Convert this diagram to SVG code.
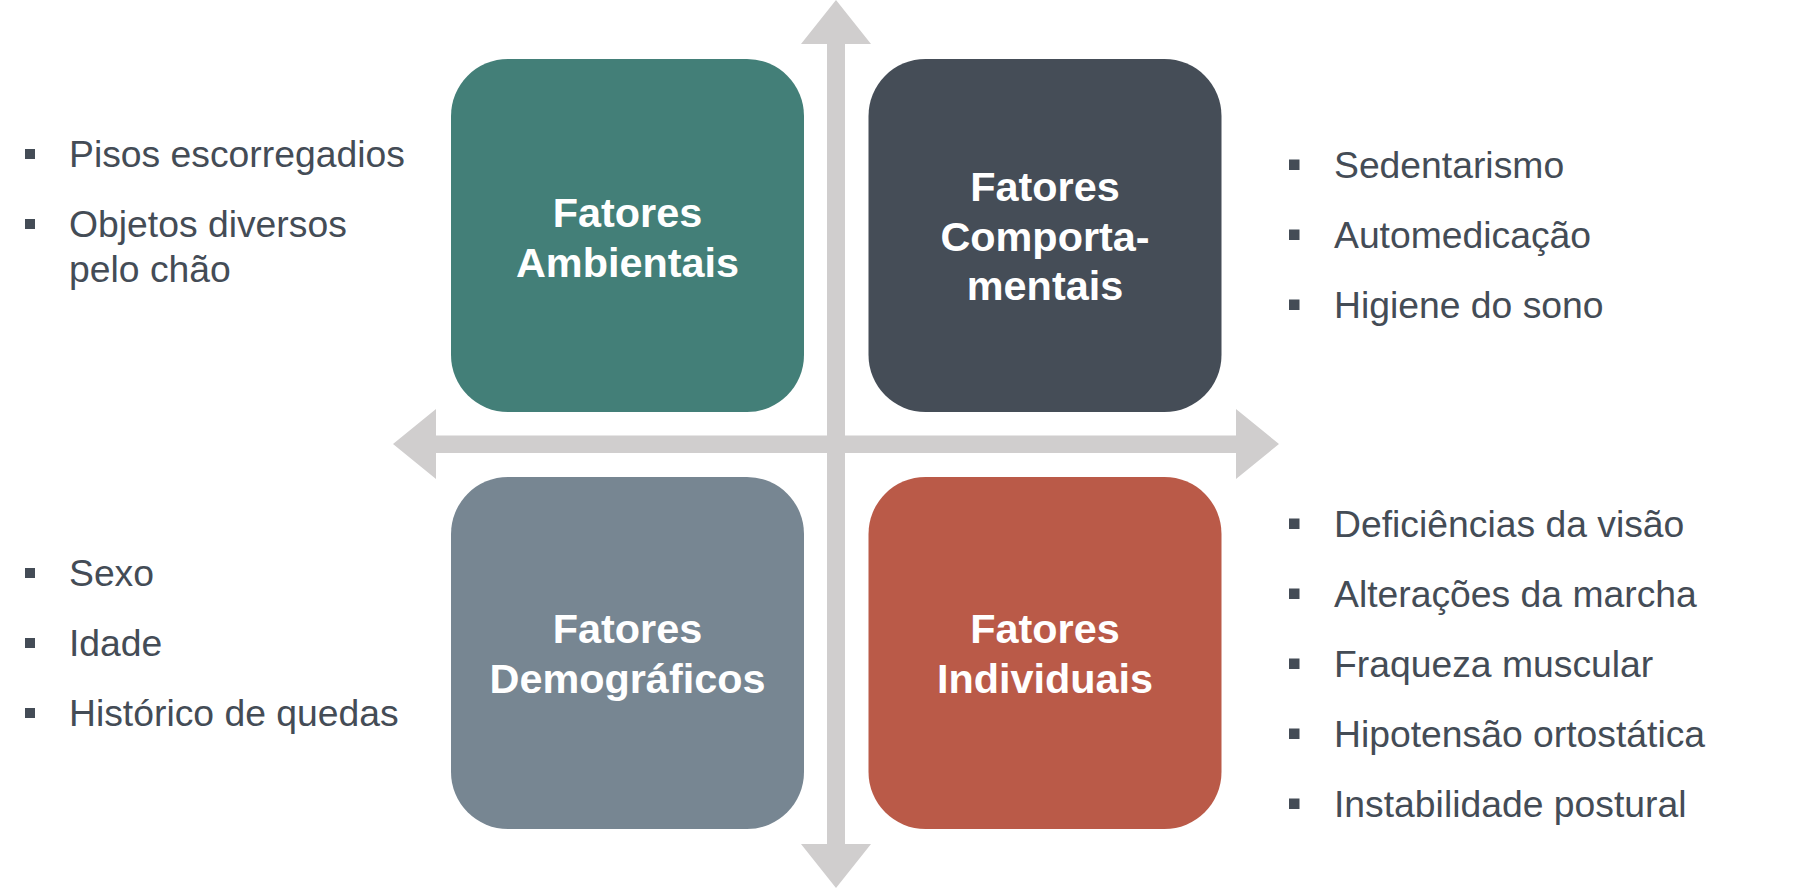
<svg xmlns="http://www.w3.org/2000/svg" width="1799" height="889" viewBox="0 0 1799 889">
  <style>
    .box-title { font-family: "Liberation Sans", Arial, sans-serif; font-weight: bold; font-size: 41.4px; fill: #FFFFFF; text-anchor: middle; }
    .item { font-family: "Liberation Sans", Arial, sans-serif; font-size: 37.3px; fill: #444C56; }
    .bullet { fill: #444C56; }
    .axis { fill: #D0CECE; }
  </style>
  <rect width="1799" height="889" fill="#FFFFFF"/>
  <g id="connectors">
    <polygon class="axis" points="836,0 871,44 845,44 845,844 871,844 836,888 801,844 827,844 827,44 801,44"/>
    <polygon class="axis" points="393,444 436,409 436,435.5 1236,435.5 1236,409 1279,444 1236,479 1236,453 436,453 436,479"/>
  </g>
  <g id="node-ambientais">
    <rect x="451" y="59" width="353" height="353" rx="57" ry="57" fill="#437F78"/>
    <text class="box-title" x="627.5" y="227">Fatores</text>
    <text class="box-title" x="627.5" y="276.5">Ambientais</text>
  </g>
  <g id="node-comportamentais">
    <rect x="868.5" y="59" width="353" height="353" rx="57" ry="57" fill="#454D57"/>
    <text class="box-title" x="1045" y="201">Fatores</text>
    <text class="box-title" x="1045" y="250.5">Comporta-</text>
    <text class="box-title" x="1045" y="300">mentais</text>
  </g>
  <g id="node-demograficos">
    <rect x="451" y="477" width="353" height="352" rx="57" ry="57" fill="#778692"/>
    <text class="box-title" x="627.5" y="643">Fatores</text>
    <text class="box-title" x="627.5" y="692.5">Demográficos</text>
  </g>
  <g id="node-individuais">
    <rect x="868.5" y="477" width="353" height="352" rx="57" ry="57" fill="#BA5A48"/>
    <text class="box-title" x="1045" y="643">Fatores</text>
    <text class="box-title" x="1045" y="692.5">Individuais</text>
  </g>
  <g id="list-ambientais">
    <rect class="bullet" x="25" y="149" width="10" height="10"/>
    <text class="item" x="69" y="167">Pisos escorregadios</text>
    <rect class="bullet" x="25" y="219" width="10" height="10"/>
    <text class="item" x="69" y="237">Objetos diversos</text>
    <text class="item" x="69" y="282">pelo chão</text>
  </g>
  <g id="list-demograficos">
    <rect class="bullet" x="25" y="568" width="10" height="10"/>
    <text class="item" x="69" y="586">Sexo</text>
    <rect class="bullet" x="25" y="638" width="10" height="10"/>
    <text class="item" x="69" y="656">Idade</text>
    <rect class="bullet" x="25" y="708" width="10" height="10"/>
    <text class="item" x="69" y="726">Histórico de quedas</text>
  </g>
  <g id="list-comportamentais">
    <rect class="bullet" x="1289" y="159.5" width="10.5" height="10.5"/>
    <text class="item" x="1334" y="177.5">Sedentarismo</text>
    <rect class="bullet" x="1289" y="229.5" width="10.5" height="10.5"/>
    <text class="item" x="1334" y="247.5">Automedicação</text>
    <rect class="bullet" x="1289" y="299.5" width="10.5" height="10.5"/>
    <text class="item" x="1334" y="317.5">Higiene do sono</text>
  </g>
  <g id="list-individuais">
    <rect class="bullet" x="1289" y="518.5" width="10.5" height="10.5"/>
    <text class="item" x="1334" y="537">Deficiências da visão</text>
    <rect class="bullet" x="1289" y="588.5" width="10.5" height="10.5"/>
    <text class="item" x="1334" y="607">Alterações da marcha</text>
    <rect class="bullet" x="1289" y="658.5" width="10.5" height="10.5"/>
    <text class="item" x="1334" y="677">Fraqueza muscular</text>
    <rect class="bullet" x="1289" y="728.5" width="10.5" height="10.5"/>
    <text class="item" x="1334" y="747">Hipotensão ortostática</text>
    <rect class="bullet" x="1289" y="798.5" width="10.5" height="10.5"/>
    <text class="item" x="1334" y="816.5">Instabilidade postural</text>
  </g>
</svg>
